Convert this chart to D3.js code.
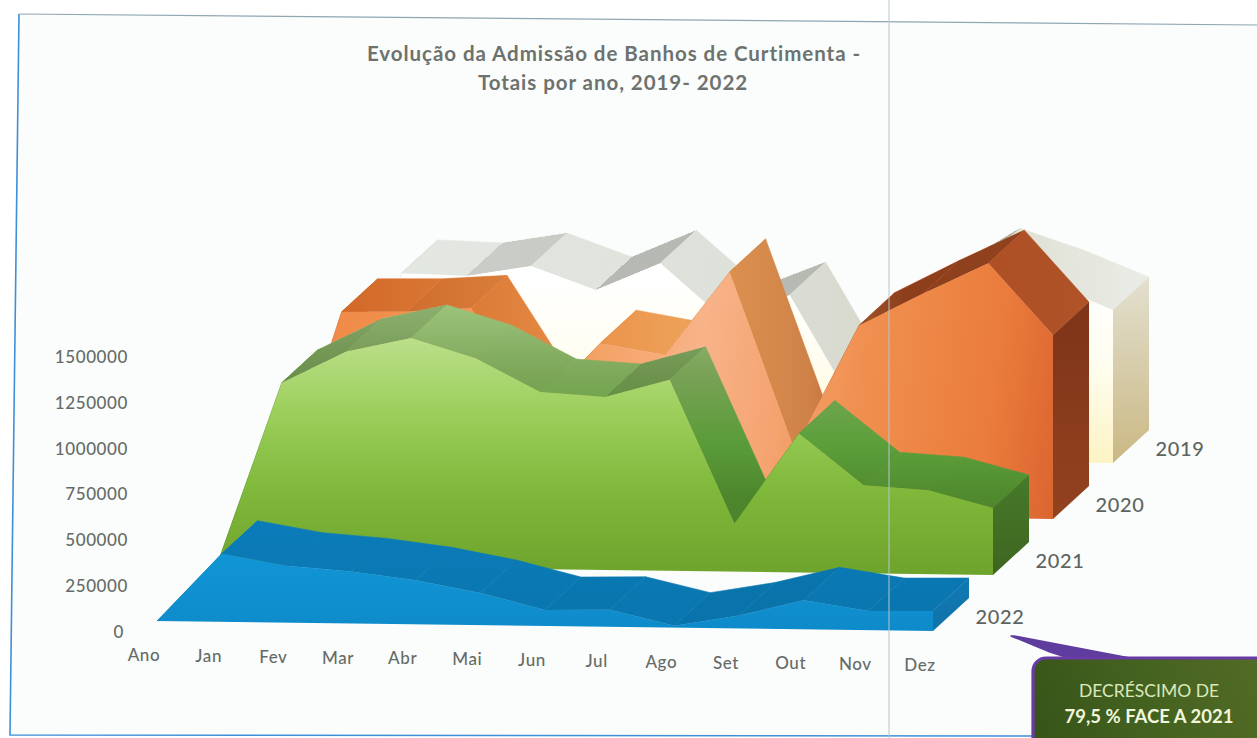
<!DOCTYPE html>
<html lang="pt">
<head>
<meta charset="utf-8">
<title>Evolução da Admissão de Banhos de Curtimenta</title>
<script src="https://cdn.jsdelivr.net/npm/d3@7"></script>
<style>
  html, body { margin: 0; padding: 0; background: #fff; overflow: hidden; }
  svg { display: block; font-family: Lato, "Open Sans", sans-serif; }
</style>
</head>
<body>
<svg id="chart" width="1257" height="738"></svg>
<script>
// Monthly totals per year, one array per series. "Ano" is the empty start of each area.
const categories = ["Ano", "Jan", "Fev", "Mar", "Abr", "Mai", "Jun", "Jul", "Ago", "Set", "Out", "Nov", "Dez"];
const years = ["2022", "2021", "2020", "2019"];
const values2019 = [0, 987000, 975000, 1033000, 907000, 1058000, 753000, 893000, 293000, 873000, 1091000, 975000, 835000];
const values2020 = [0, 1080000, 1085000, 1108000, 562000, 927000, 867000, 1325000, 360000, 1042000, 1222000, 1391000, 1003000];
const values2021 = [0, 998000, 1173000, 1252000, 1146000, 966000, 944000, 1042000, 262000, 758000, 480000, 458000, 366000];
const values2022 = [0, 371000, 311000, 284000, 240000, 175000, 87000, 93000, 11000, 71000, 158000, 104000, 109000];
const yTicks = [0, 250000, 500000, 750000, 1000000, 1250000, 1500000];
const titleLines = ["Evolução da Admissão de Banhos de Curtimenta -", "Totais por ano, 2019- 2022"];
const calloutLines = ["DECRÉSCIMO DE", "79,5 % FACE A 2021"];

const valuesByYear = { "2019": values2019, "2020": values2020, "2021": values2021, "2022": values2022 };

// Fill ramps for each year's three visible faces, plus how strongly slopes darken its ribbon.
const styles = {
  "2019": {
    shade: 1,
    front: { dir: [0, 280, 0, 465], stops: [[0, "#ffffff"], [0.45, "#fffdf0"], [1, "#fdf3c2"]] },
    top: { dir: [400, 0, 1150, 0], stops: [[0, "#e3e7e2"], [0.55, "#e2e5dc"], [0.72, "#dcdccb"], [1, "#eceee9"]] },
    side: { dir: [0, 280, 0, 460], stops: [[0, "#e2dfce"], [1, "#cbb985"]] }
  },
  "2020": {
    shade: 1,
    front: { dir: [330, 340, 1060, 440], stops: [[0, "#f08a48"], [0.36, "#f4a264"], [0.5, "#f8b389"], [0.6, "#f5a573"], [0.72, "#f09050"], [0.9, "#ea7c3c"], [1, "#dc6630"]] },
    top: { dir: [350, 0, 1090, 0], stops: [[0, "#d86d2c"], [0.25, "#ea8a42"], [0.45, "#efa25a"], [0.62, "#dc8a4c"], [0.75, "#b24e22"], [1, "#b5552a"]] },
    side: { dir: [0, 300, 0, 520], stops: [[0, "#7e3418"], [1, "#93421f"]] }
  },
  "2021": {
    shade: 0.7,
    front: { dir: [0, 335, 0, 575], stops: [[0, "#bce08c"], [0.3, "#9ed05e"], [0.65, "#7fb83a"], [1, "#6ea32c"]] },
    top: { dir: [0, 305, 0, 500], stops: [[0, "#9dc47c"], [0.35, "#7ea85a"], [0.7, "#5ea23c"], [1, "#4f8a2e"]] },
    side: { dir: [0, 475, 0, 575], stops: [[0, "#467a2a"], [1, "#3f6520"]] }
  },
  "2022": {
    shade: 0.2,
    front: { dir: [0, 550, 0, 632], stops: [[0, "#1296d6"], [1, "#0e8aca"]] },
    top: { dir: [0, 520, 0, 600], stops: [[0, "#0b7cba"], [1, "#0a77b0"]] },
    side: { dir: [0, 580, 0, 632], stops: [[0, "#0f79b4"], [1, "#1172a8"]] }
  }
};

const svg = d3.select("#chart");
const defs = svg.append("defs");

// Scales of the oblique 3D view: months run along x, years step back along the depth.
const x = d3.scalePoint().domain(categories).range([157, 933]);
const y = d3.scaleLinear().domain([0, 1500000]).range([632, 357]);
const yearStep = d3.scalePoint().domain(years).range([0, 3]);
const stepX = 60, stepY = 56;        // offset from one year to the next
const ribbonX = 36, ribbonY = 33;    // thickness of a single year's area
const baseTilt = d3.scaleLinear().domain([157, 933]).range([621, 631]);

function project(category, value, year, depth) {
  const k = yearStep(year);
  const px = x(category);
  return [
    px + k * stepX + depth * ribbonX,
    baseTilt(px) - k * stepY - depth * ribbonY - (y(0) - y(value))
  ];
}

function ramp(id, spec) {
  const g = defs.append("linearGradient").attr("id", id)
    .attr("gradientUnits", "userSpaceOnUse")
    .attr("x1", spec.dir[0]).attr("y1", spec.dir[1])
    .attr("x2", spec.dir[2]).attr("y2", spec.dir[3]);
  g.selectAll("stop").data(spec.stops).join("stop")
    .attr("offset", d => d[0]).attr("stop-color", d => d[1]);
  return `url(#${id})`;
}

const polygon = d3.line().curve(d3.curveLinearClosed);

// Paper: a slightly skewed page on a white scan.
svg.append("rect").attr("width", 1257).attr("height", 738).attr("fill", "#ffffff");
const pageCorners = [[19, 14], [1257, 25], [1257, 738], [1040, 736], [10, 735]];
svg.append("path").attr("d", polygon(pageCorners)).attr("fill", "#fafdfb");
svg.append("path").attr("d", d3.line()([[19, 14], [1257, 25]]))
  .attr("fill", "none").attr("stroke", "#8fa6b4").attr("stroke-width", 1.2);
svg.append("path").attr("d", d3.line()([[19, 14], [10, 735], [1040, 736]]))
  .attr("fill", "none").attr("stroke", "#3f8fd8").attr("stroke-width", 1.6);

// Extra shade on faces that tilt away from the light.
const slopeShade = d3.scaleLinear().domain([-0.6, -0.25, 0.05, 3]).range([0.22, 0.17, 0, 0.06]).clamp(true);

// Areas are painted from the back year to the front one.
const backToFront = years.slice().reverse();
const plot = svg.append("g").attr("class", "areas");

backToFront.forEach(year => {
  const vals = valuesByYear[year];
  const points = categories.map((c, i) => ({ c, v: vals[i] }));
  const group = plot.append("g").attr("class", `year-${year}`);
  const topFill = ramp(`top-${year}`, styles[year].top);
  const frontFill = ramp(`front-${year}`, styles[year].front);
  const sideFill = ramp(`side-${year}`, styles[year].side);

  // Top ribbon, one quad per month, left to right. The hairline stroke closes the joins.
  d3.pairs(points).forEach(([a, b]) => {
    const a0 = project(a.c, a.v, year, 0), b0 = project(b.c, b.v, year, 0);
    const quad = [a0, project(a.c, a.v, year, 1), project(b.c, b.v, year, 1), b0];
    group.append("path").attr("d", polygon(quad)).attr("fill", topFill)
      .attr("stroke", topFill).attr("stroke-width", 0.6);
    const slope = (b0[1] - a0[1]) / (b0[0] - a0[0]);
    group.append("path").attr("d", polygon(quad)).attr("fill", "#000")
      .attr("shape-rendering", "crispEdges")
      .attr("fill-opacity", slopeShade(slope) * styles[year].shade);
  });

  // Closing wall on the right.
  const last = points[points.length - 1];
  group.append("path").attr("d", polygon([
    project(last.c, 0, year, 0), project(last.c, last.v, year, 0),
    project(last.c, last.v, year, 1), project(last.c, 0, year, 1)
  ])).attr("fill", sideFill);

  // Front face of the area.
  const outline = points.map(p => project(p.c, p.v, year, 0))
    .concat([project(last.c, 0, year, 0), project(points[0].c, 0, year, 0)]);
  group.append("path").attr("d", polygon(outline)).attr("fill", frontFill);
});

// Value axis, its labels only.
const textColor = "#666b68";
const yAxis = svg.append("g").attr("transform", "translate(128,0)")
  .call(d3.axisLeft(y).tickValues(yTicks).tickSize(0).tickPadding(0).tickFormat(d3.format("d")));
yAxis.select(".domain").remove();
yAxis.selectAll("text")
  .attr("dx", d => d === 0 ? -4 : 0)
  .attr("fill", textColor).attr("font-size", 17).attr("letter-spacing", 0.6)
  .attr("font-family", "Lato, sans-serif").attr("font-weight", 500);

// Month labels follow the tilt of the base line.
svg.append("g").selectAll("text").data(categories).join("text")
  .attr("x", d => x(d) - 13)
  .attr("y", d => baseTilt(x(d)) + 40)
  .attr("text-anchor", "middle").attr("fill", textColor)
  .attr("font-size", 17).attr("letter-spacing", 0.6).attr("font-weight", 500)
  .text(d => d);

// Year labels at the right end of each area.
svg.append("g").selectAll("text").data(years).join("text")
  .attr("x", d => x("Dez") + yearStep(d) * stepX + 67)
  .attr("y", d => baseTilt(x("Dez")) - yearStep(d) * stepY - 7)
  .attr("text-anchor", "middle").attr("fill", "#5f6461")
  .attr("font-size", 20).attr("letter-spacing", 0.7).attr("font-weight", 500)
  .text(d => d);

// Title.
svg.append("g").selectAll("text").data(titleLines).join("text")
  .attr("x", (d, i) => i ? 613 : 614)
  .attr("y", (d, i) => 61 + i * 29)
  .attr("text-anchor", "middle").attr("fill", "#6d726f")
  .attr("font-size", 20.5).attr("font-weight", 700).attr("letter-spacing", 0.95)
  .text(d => d);

// Thin fold line of the scanned page.
svg.append("path").attr("d", d3.line()([[889, 0], [889, 738]]))
  .attr("stroke", "#b4c6cf").attr("stroke-width", 1).attr("fill", "none");

// Call-out box with its pointer towards 2022.
const calloutFill = ramp("callout", { dir: [1033, 738, 1257, 660], stops: [[0, "#375419"], [0.5, "#44621f"], [1, "#526b26"]] });
svg.append("path")
  .attr("d", polygon([[1011, 636], [1014, 636], [1130, 658], [1072, 659], [1050, 652]]))
  .attr("fill", "#5e3d9e").attr("stroke", "#5e3d9e").attr("stroke-width", 1.5).attr("stroke-linejoin", "round");
svg.append("rect").attr("x", 1033).attr("y", 658).attr("width", 260).attr("height", 110)
  .attr("rx", 13).attr("fill", calloutFill).attr("stroke", "#6a3aa6").attr("stroke-width", 3.2);
svg.append("g").selectAll("text").data(calloutLines).join("text")
  .attr("x", 1149).attr("y", (d, i) => 697 + i * 26)
  .attr("text-anchor", "middle").attr("font-size", (d, i) => i ? 18.5 : 17.5)
  .attr("fill", (d, i) => i ? "#f0f6dc" : "#dbe8bd")
  .attr("font-weight", (d, i) => i ? 700 : 400)
  .text(d => d);
</script>
</body>
</html>
